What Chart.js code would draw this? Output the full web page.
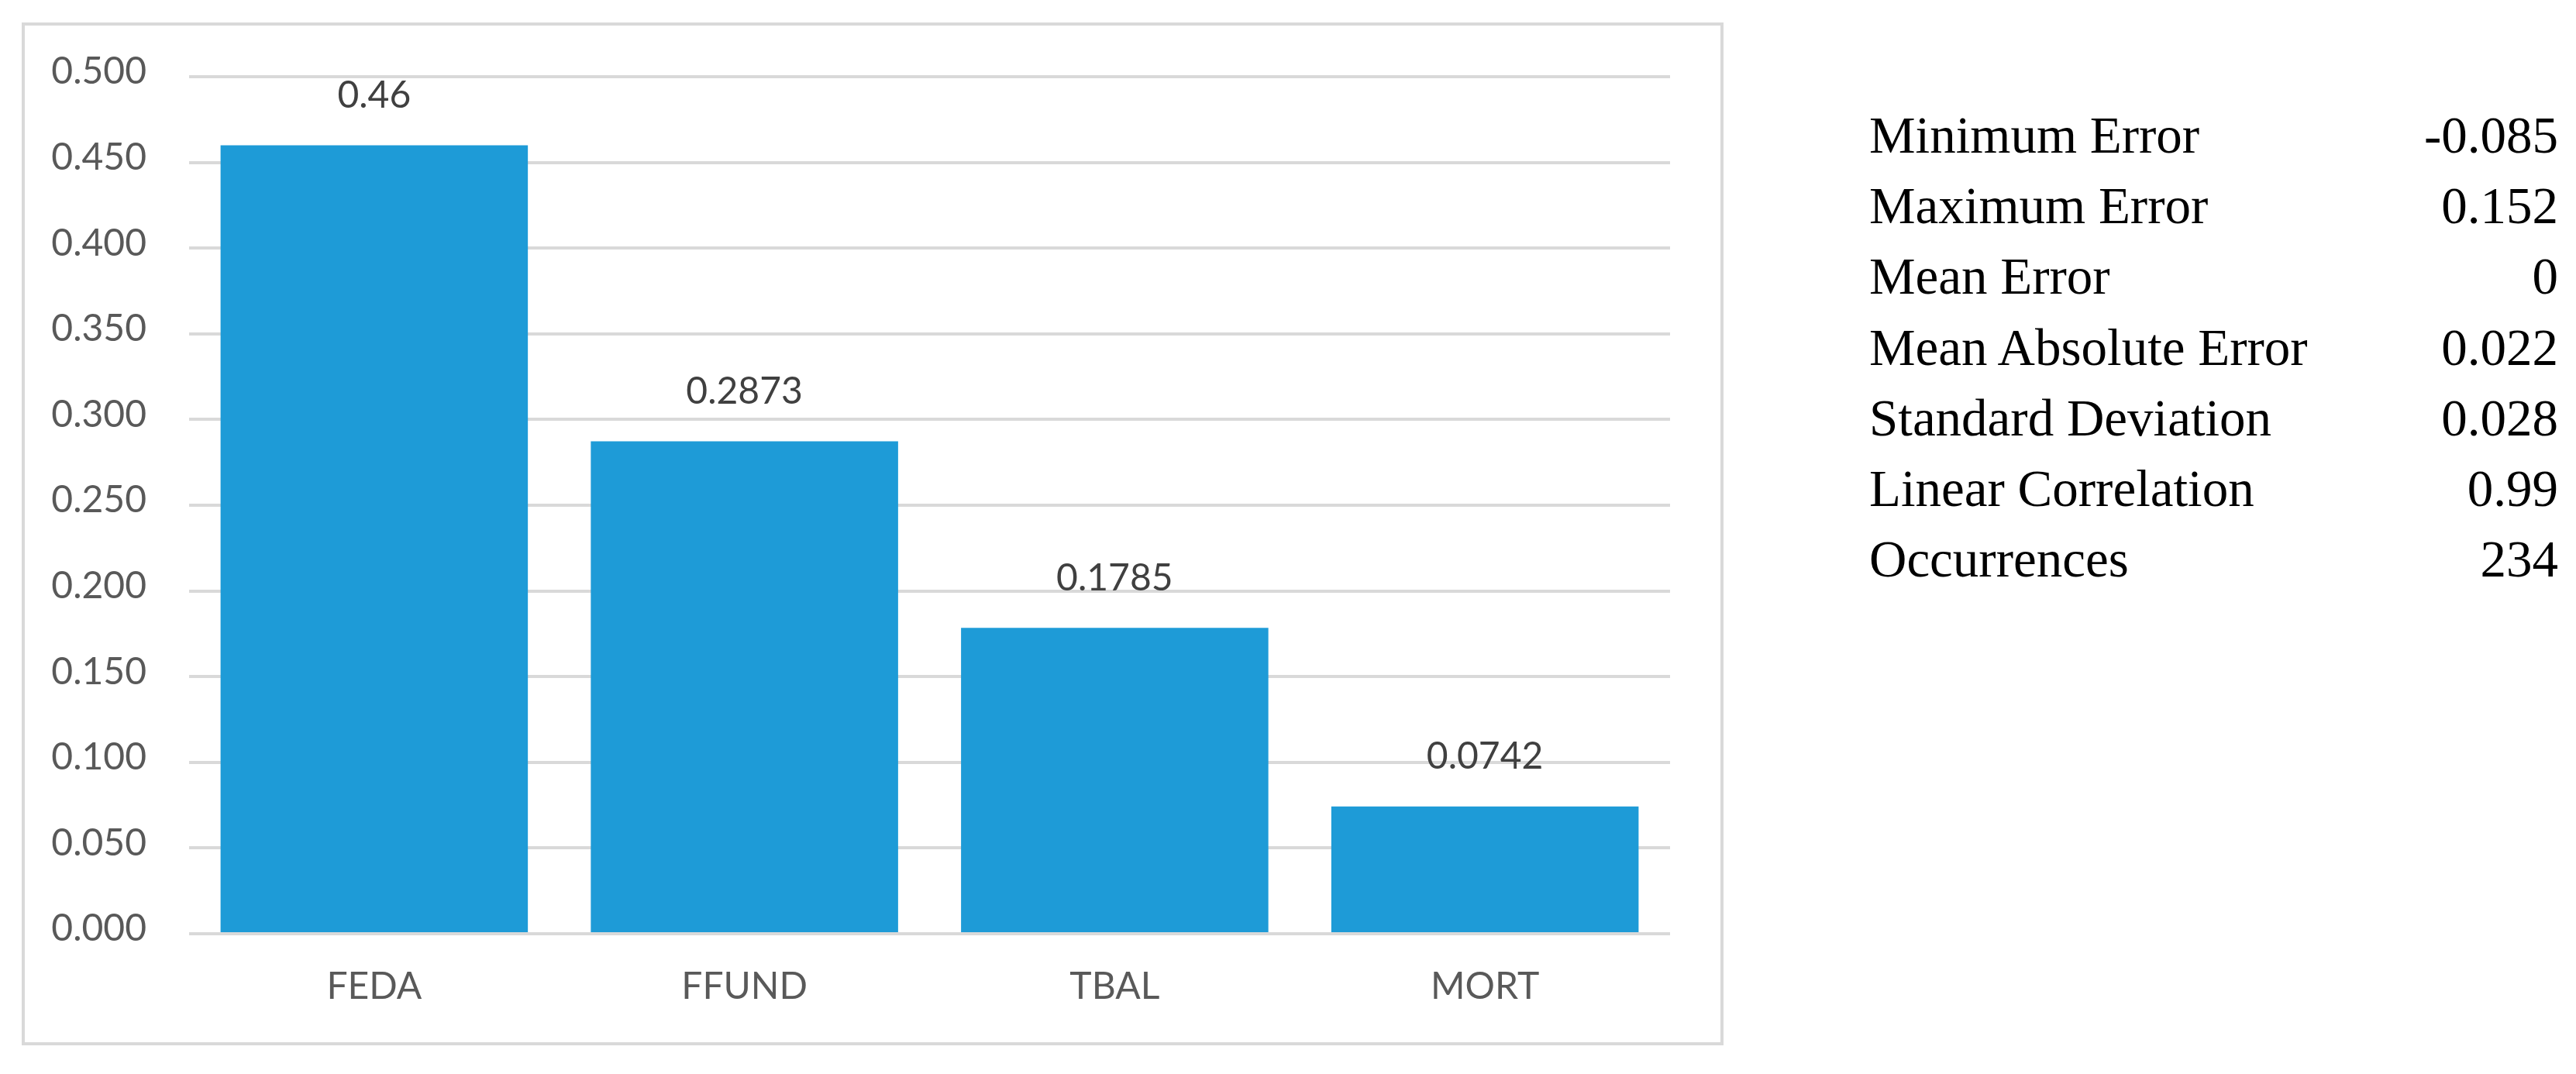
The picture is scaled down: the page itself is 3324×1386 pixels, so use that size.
<!DOCTYPE html>
<html>
<head>
<meta charset="utf-8">
<script src="https://cdn.jsdelivr.net/npm/chart.js@4/dist/chart.umd.min.js"></script>
<style>
  html, body { margin: 0; padding: 0; background: #ffffff; }
  body { width: 3324px; height: 1386px; position: relative; overflow: hidden; }
  #frame { position: absolute; left: 28px; top: 29px; width: 2196px; height: 1320px; box-sizing: border-box; border: 4px solid #d9d9d9; }
  #c { position: absolute; left: 0; top: 0; }
  #stats { position: absolute; left: 2412px; top: 129px; width: 889px; font-family: "Liberation Serif", "Times New Roman", serif; font-size: 67px; line-height: 91.2px; color: #000; }
  .row { display: flex; justify-content: space-between; white-space: nowrap; height: 91.2px; }
</style>
</head>
<body>
<div id="frame"></div>
<canvas id="c" width="3324" height="1386"></canvas>
<div id="stats"></div>
<script>
const categories = ["FEDA", "FFUND", "TBAL", "MORT"];
const values = [0.46, 0.2873, 0.1785, 0.0742];
const yTickValues = [0, 0.05, 0.1, 0.15, 0.2, 0.25, 0.3, 0.35, 0.4, 0.45, 0.5];
const statNames = ["Minimum Error", "Maximum Error", "Mean Error", "Mean Absolute Error", "Standard Deviation", "Linear Correlation", "Occurrences"];
const statValues = ["-0.085", "0.152", "0", "0.022", "0.028", "0.99", "234"];

const statsEl = document.getElementById('stats');
statNames.forEach((n, i) => {
  const r = document.createElement('div');
  r.className = 'row';
  const a = document.createElement('span'); a.textContent = n;
  const b = document.createElement('span'); b.textContent = statValues[i];
  r.appendChild(a); r.appendChild(b);
  statsEl.appendChild(r);
});

const labelFont = { family: "Lato, 'Open Sans', sans-serif", size: 48 };

const barLabels = {
  id: 'barLabels',
  afterDatasetsDraw(chart) {
    const ctx = chart.ctx;
    const meta = chart.getDatasetMeta(0);
    ctx.save();
    ctx.font = "48px Lato, 'Open Sans', sans-serif";
    ctx.fillStyle = '#404040';
    ctx.textAlign = 'center';
    ctx.textBaseline = 'middle';
    meta.data.forEach((bar, i) => {
      ctx.fillText(String(values[i]), bar.x, bar.y - 64);
    });
    ctx.restore();
  }
};

new Chart(document.getElementById('c'), {
  type: 'bar',
  data: {
    labels: categories,
    datasets: [{
      data: values,
      backgroundColor: '#1e9bd7',
      borderWidth: 0,
      barPercentage: 0.83,
      categoryPercentage: 1.0
    }]
  },
  options: {
    responsive: false,
    animation: false,
    devicePixelRatio: 1,
    layout: { padding: { left: 0, right: 1169, top: 99, bottom: 0 } },
    plugins: { legend: { display: false }, tooltip: { enabled: false } },
    scales: {
      x: {
        grid: { display: false, drawTicks: false },
        border: { display: false },
        ticks: { color: '#595959', font: labelFont, padding: 40 },
        afterFit(scale) { scale.height = 181; }
      },
      y: {
        min: 0,
        max: 0.5,
        grid: { color: '#d9d9d9', lineWidth: 4, drawTicks: false },
        border: { display: false },
        ticks: {
          color: '#595959',
          font: labelFont,
          padding: 55,
          labelOffset: -6,
          callback: (v) => Number(v).toFixed(3)
        },
        afterBuildTicks(scale) { scale.ticks = yTickValues.map(v => ({ value: v })); },
        afterFit(scale) { scale.width = 244; }
      }
    }
  },
  plugins: [barLabels]
});
</script>
</body>
</html>
